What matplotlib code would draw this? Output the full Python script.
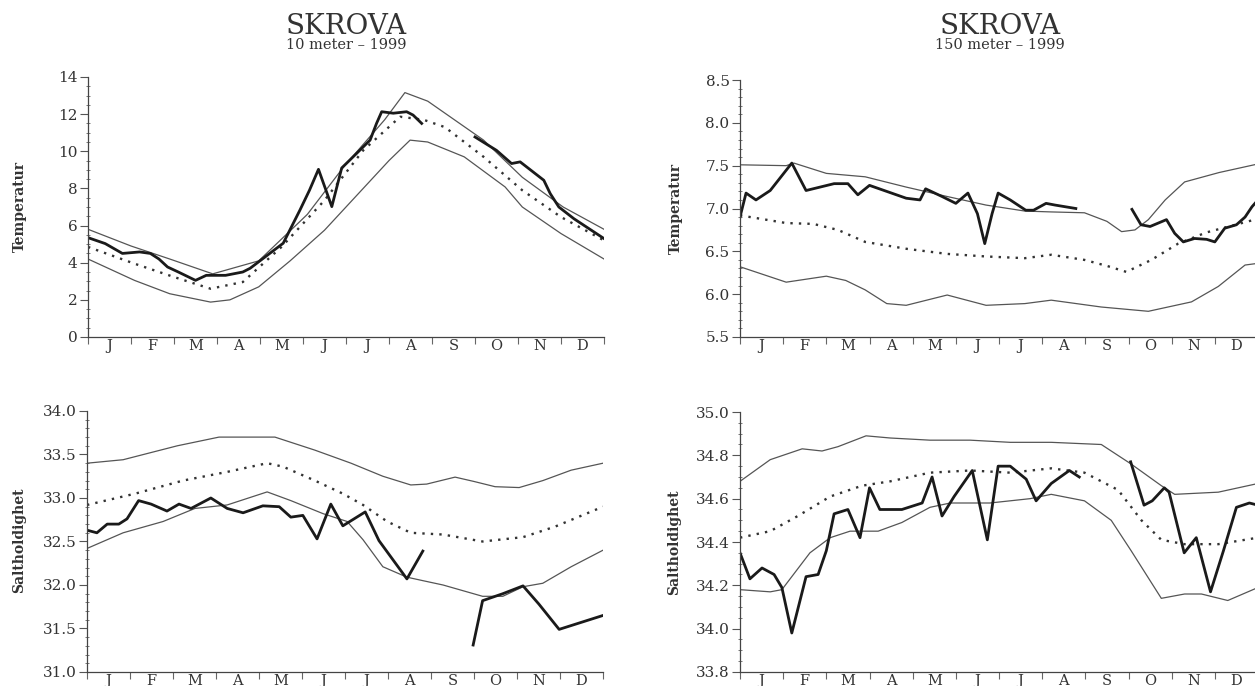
import numpy as np
import matplotlib
matplotlib.use("Agg")
import matplotlib.pyplot as plt
from matplotlib.ticker import MultipleLocator, FixedLocator, NullFormatter, FixedFormatter

# month axis runs 0..12 (start of Jan .. end of Dec)
months = ["J", "F", "M", "A", "M", "J", "J", "A", "S", "O", "N", "D"]

# ---- 10 m temperature ----
t10_up_x = [0, 1.0, 1.9, 2.9, 3.97, 5.1, 5.96, 6.9, 7.37, 7.9, 9.2, 10.1, 11.05, 12]
t10_up_y = [5.8, 4.9, 4.2, 3.4, 4.1, 6.6, 9.2, 11.7, 13.16, 12.7, 10.6, 8.6, 7.0, 5.8]
t10_mean_x = [0, 1.08, 2.0, 2.85, 3.6, 4.5, 5.5, 6.4, 7.26, 7.8, 8.3, 9.2, 10.1, 11.0, 12]
t10_mean_y = [4.85, 3.95, 3.23, 2.6, 2.96, 4.85, 7.36, 10.05, 11.86, 11.7, 11.3, 9.7, 7.9, 6.46, 5.2]
t10_lo_x = [0, 1.08, 1.9, 2.85, 3.3, 3.97, 4.7, 5.5, 6.2, 7.0, 7.49, 7.9, 8.75, 9.7, 10.1, 11.0, 12]
t10_lo_y = [4.2, 3.05, 2.33, 1.88, 2.0, 2.7, 4.1, 5.75, 7.5, 9.5, 10.6, 10.5, 9.7, 8.08, 7.0, 5.57, 4.2]
t10_obs1_x = [0, 0.4, 0.8, 1.2, 1.45, 1.65, 1.85, 2.1, 2.5, 2.75, 3.2, 3.6, 3.77, 4.54, 4.93,
              5.15, 5.36, 5.67, 5.9, 6.09, 6.56, 6.71, 6.83, 7.1, 7.41, 7.56, 7.76]
t10_obs1_y = [5.35, 5.03, 4.5, 4.58, 4.5, 4.2, 3.77, 3.5, 3.05, 3.32, 3.32, 3.5, 3.7, 5.05, 6.84,
              7.9, 9.03, 7.02, 9.1, 9.53, 10.6, 11.5, 12.13, 12.05, 12.13, 11.95, 11.5]
t10_obs2_x = [9.0, 9.5, 9.85, 10.05, 10.3, 10.6, 10.75, 10.95, 11.3, 12]
t10_obs2_y = [10.77, 10.05, 9.34, 9.43, 8.98, 8.44, 7.72, 7.0, 6.37, 5.3]

# ---- 150 m temperature ----
t150_up_x = [0, 1.07, 1.25, 2.0, 2.9, 3.85, 4.8, 5.7, 6.6, 7.21, 7.98, 8.5, 8.84, 9.15, 9.46, 9.85, 10.3, 11.1, 12]
t150_up_y = [7.51, 7.5, 7.53, 7.41, 7.37, 7.25, 7.14, 7.04, 6.97, 6.96, 6.95, 6.85, 6.73, 6.75, 6.87, 7.1, 7.31, 7.42, 7.52]
t150_mean_x = [0, 1.07, 1.7, 2.27, 2.9, 3.85, 4.8, 5.7, 6.6, 7.21, 7.98, 8.5, 8.95, 9.53, 10.15, 10.8, 12]
t150_mean_y = [6.92, 6.83, 6.82, 6.75, 6.61, 6.53, 6.47, 6.44, 6.42, 6.46, 6.4, 6.33, 6.26, 6.4, 6.59, 6.72, 6.88]
t150_lo_x = [0, 1.07, 2.0, 2.45, 2.9, 3.4, 3.85, 4.8, 5.7, 6.6, 7.21, 8.37, 9.46, 10.46, 11.08, 11.7, 12]
t150_lo_y = [6.32, 6.14, 6.21, 6.16, 6.05, 5.89, 5.87, 5.99, 5.87, 5.89, 5.93, 5.85, 5.8, 5.91, 6.09, 6.34, 6.36]
t150_obs1_x = [0, 0.14, 0.37, 0.7, 1.2, 1.53, 2.18, 2.5, 2.73, 3.0, 3.85, 4.17, 4.3, 4.68, 5.0,
               5.28, 5.5, 5.67, 5.84, 5.98, 6.26, 6.62, 6.8, 7.09, 7.3, 7.78]
t150_obs1_y = [6.9, 7.18, 7.1, 7.21, 7.53, 7.21, 7.29, 7.29, 7.16, 7.27, 7.12, 7.1, 7.23, 7.14, 7.06,
               7.18, 6.94, 6.59, 6.94, 7.18, 7.1, 6.98, 6.98, 7.06, 7.04, 7.0]
t150_obs2_x = [9.08, 9.29, 9.5, 9.88, 10.07, 10.27, 10.53, 10.81, 11.0, 11.23, 11.5, 11.7, 11.86, 12]
t150_obs2_y = [6.99, 6.81, 6.79, 6.87, 6.71, 6.61, 6.65, 6.64, 6.61, 6.77, 6.81, 6.9, 7.02, 7.1]

# ---- 10 m salinity ----
s10_up_x = [0, 0.84, 2.1, 3.07, 4.37, 5.3, 6.14, 6.88, 7.53, 7.9, 8.56, 9.0, 9.49, 10.05, 10.6, 11.26, 12]
s10_up_y = [33.4, 33.44, 33.6, 33.7, 33.7, 33.55, 33.4, 33.25, 33.15, 33.16, 33.24, 33.19, 33.13, 33.12, 33.2, 33.32, 33.4]
s10_mean_x = [0, 1.12, 2.23, 3.26, 4.19, 4.56, 5.3, 5.95, 6.42, 6.98, 7.53, 8.28, 9.2, 10.14, 10.88, 12]
s10_mean_y = [32.92, 33.05, 33.2, 33.3, 33.4, 33.36, 33.2, 33.05, 32.92, 32.73, 32.6, 32.58, 32.5, 32.55, 32.67, 32.9]
s10_lo_x = [0, 0.84, 1.77, 2.51, 3.26, 4.19, 4.74, 5.49, 6.05, 6.42, 6.88, 7.44, 7.81, 8.28, 9.2, 9.67, 10.14, 10.6, 11.26, 12]
s10_lo_y = [32.42, 32.6, 32.73, 32.88, 32.92, 33.07, 32.97, 32.82, 32.73, 32.52, 32.21, 32.09, 32.05, 32.0, 31.87, 31.87, 31.98, 32.02, 32.21, 32.4]
s10_obs1_x = [0, 0.23, 0.47, 0.74, 0.93, 1.2, 1.49, 1.86, 2.14, 2.42, 2.88, 3.26, 3.63, 4.09, 4.47,
              4.74, 5.02, 5.35, 5.67, 5.95, 6.47, 6.79, 7.44, 7.81]
s10_obs1_y = [32.63, 32.6, 32.7, 32.7, 32.76, 32.97, 32.93, 32.85, 32.93, 32.88, 33.0, 32.88, 32.83, 32.91, 32.9,
              32.78, 32.8, 32.53, 32.93, 32.68, 32.84, 32.51, 32.07, 32.39]
s10_obs2_x = [8.98, 9.2, 9.67, 10.14, 10.51, 10.98, 12]
s10_obs2_y = [31.31, 31.82, 31.9, 31.99, 31.78, 31.49, 31.65]

# ---- 150 m salinity ----
s150_up_x = [0, 0.7, 1.44, 1.9, 2.27, 2.92, 3.48, 4.4, 5.33, 6.26, 7.21, 8.37, 9.06, 9.76, 10.07, 11.08, 12]
s150_up_y = [34.68, 34.78, 34.83, 34.82, 34.84, 34.89, 34.88, 34.87, 34.87, 34.86, 34.86, 34.85, 34.76, 34.66, 34.62, 34.63, 34.67]
s150_mean_x = [0, 0.7, 1.34, 2.09, 2.83, 3.48, 4.4, 5.33, 6.26, 7.21, 7.98, 8.76, 9.3, 9.76, 10.3, 11.08, 12]
s150_mean_y = [34.42, 34.45, 34.52, 34.61, 34.66, 34.68, 34.72, 34.73, 34.72, 34.74, 34.72, 34.64, 34.5, 34.41, 34.39, 34.39, 34.42]
s150_lo_x = [0, 0.7, 0.97, 1.62, 2.09, 2.55, 3.2, 3.75, 4.4, 4.87, 5.79, 6.72, 7.21, 7.98, 8.6, 9.06, 9.76, 10.3, 10.69, 11.3, 12]
s150_lo_y = [34.18, 34.17, 34.18, 34.35, 34.42, 34.45, 34.45, 34.49, 34.56, 34.58, 34.58, 34.6, 34.62, 34.59, 34.5, 34.36, 34.14, 34.16, 34.16, 34.13, 34.19]
s150_obs1_x = [0, 0.23, 0.51, 0.79, 0.97, 1.2, 1.53, 1.81, 2.0, 2.18, 2.5, 2.78, 3.0, 3.24, 3.75, 4.22,
               4.45, 4.68, 4.96, 5.38, 5.73, 5.98, 6.26, 6.63, 6.86, 7.21, 7.63, 7.86]
s150_obs1_y = [34.35, 34.23, 34.28, 34.25, 34.19, 33.98, 34.24, 34.25, 34.36, 34.53, 34.55, 34.42, 34.65, 34.55, 34.55, 34.58,
               34.7, 34.52, 34.61, 34.73, 34.41, 34.75, 34.75, 34.69, 34.59, 34.67, 34.73, 34.7]
s150_obs2_x = [9.05, 9.36, 9.55, 9.83, 9.94, 10.29, 10.57, 10.9, 11.2, 11.5, 11.8, 12]
s150_obs2_y = [34.77, 34.57, 34.59, 34.65, 34.63, 34.35, 34.42, 34.17, 34.36, 34.56, 34.58, 34.57]

plt.rcParams["font.family"] = ["DejaVu Serif"]

W, H = 1255, 686
fig = plt.figure(figsize=(W / 100, H / 100), dpi=100)
fig.patch.set_facecolor("white")


def px_axes(x0, x1, ytop, ybot):
    return fig.add_axes([x0 / W, 1 - ybot / H, (x1 - x0) / W, (ybot - ytop) / H])


def draw_panel(ax, up, mean, lo, obs, ylim, major, minor, fmt):
    thin = dict(color="#555555", lw=0.9)
    ax.plot(up[0], up[1], **thin)
    ax.plot(lo[0], lo[1], **thin)
    ax.plot(mean[0], mean[1], color="#333333", lw=1.7, linestyle=(0, (1, 2.6)))
    for ox, oy in obs:
        ax.plot(ox, oy, color="#1a1a1a", lw=2.0, solid_joinstyle="round")
    ax.set_xlim(0, 12)
    ax.set_ylim(*ylim)
    for side in ("top", "right"):
        ax.spines[side].set_visible(False)
    for side in ("left", "bottom"):
        ax.spines[side].set_linewidth(0.9)
        ax.spines[side].set_color("#444444")
    # month boundaries as ticks, month initials at the centres
    ax.xaxis.set_major_locator(FixedLocator(np.arange(0, 13)))
    ax.xaxis.set_major_formatter(NullFormatter())
    ax.xaxis.set_minor_locator(FixedLocator(np.arange(12) + 0.5))
    ax.xaxis.set_minor_formatter(FixedFormatter(months))
    ax.tick_params(axis="x", which="major", direction="out", length=5, width=0.8, color="#666666")
    ax.tick_params(axis="x", which="minor", length=0, pad=1.5, labelsize=10.5, labelcolor="#333333")
    ax.yaxis.set_major_locator(MultipleLocator(major))
    ax.yaxis.set_minor_locator(MultipleLocator(minor))
    ax.yaxis.set_major_formatter(fmt)
    ax.tick_params(axis="y", which="major", direction="out", length=6, width=0.8, pad=1.5,
                   labelsize=11, labelcolor="#333333", color="#555555")
    ax.tick_params(axis="y", which="minor", direction="inout", length=3, width=0.7, color="#777777")


ax1 = px_axes(88, 604, 77, 337)
draw_panel(ax1, (t10_up_x, t10_up_y), (t10_mean_x, t10_mean_y), (t10_lo_x, t10_lo_y),
           [(t10_obs1_x, t10_obs1_y), (t10_obs2_x, t10_obs2_y)], (0, 14), 2, 0.5, "{x:.0f}")

ax2 = px_axes(740, 1258, 80, 337)
draw_panel(ax2, (t150_up_x, t150_up_y), (t150_mean_x, t150_mean_y), (t150_lo_x, t150_lo_y),
           [(t150_obs1_x, t150_obs1_y), (t150_obs2_x, t150_obs2_y)], (5.5, 8.5), 0.5, 0.1, "{x:.1f}")

ax3 = px_axes(87, 603, 411, 672)
draw_panel(ax3, (s10_up_x, s10_up_y), (s10_mean_x, s10_mean_y), (s10_lo_x, s10_lo_y),
           [(s10_obs1_x, s10_obs1_y), (s10_obs2_x, s10_obs2_y)], (31.0, 34.0), 0.5, 0.1, "{x:.1f}")

ax4 = px_axes(740, 1258, 412, 672)
draw_panel(ax4, (s150_up_x, s150_up_y), (s150_mean_x, s150_mean_y), (s150_lo_x, s150_lo_y),
           [(s150_obs1_x, s150_obs1_y), (s150_obs2_x, s150_obs2_y)], (33.8, 35.0), 0.2, 0.05, "{x:.1f}")

# headings and axis names
for cx, sub in ((346, "10 meter \u2013 1999"), (1000, "150 meter \u2013 1999")):
    fig.text(cx / W, 1 - 27 / H, "SKROVA", ha="center", va="center", fontsize=20, color="#333333")
    fig.text(cx / W, 1 - 45 / H, sub, ha="center", va="center", fontsize=10.5, color="#333333")

for x, y, lab in ((20, 207, "Temperatur"), (676, 208, "Temperatur"),
                  (19, 540, "Saltholdighet"), (674, 542, "Saltholdighet")):
    fig.text(x / W, 1 - y / H, lab, rotation=90, ha="center", va="center",
             fontsize=10, fontweight="bold", color="#333333")

fig.savefig("out.png", dpi=100, facecolor="white")
